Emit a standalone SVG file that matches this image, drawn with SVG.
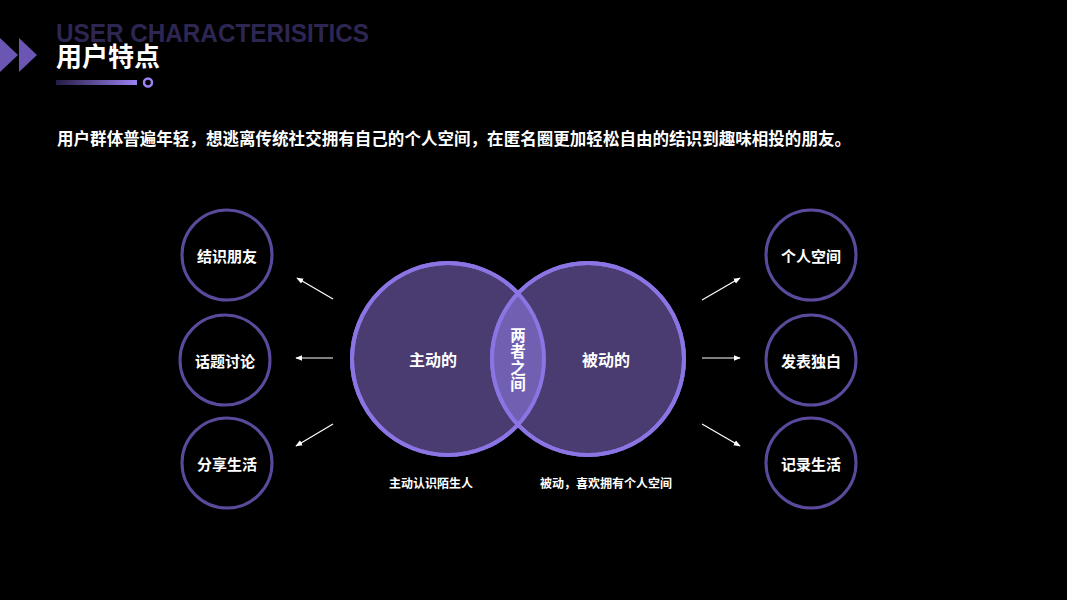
<svg xmlns="http://www.w3.org/2000/svg" width="1067" height="600" viewBox="0 0 1067 600">
<defs>
<style>
.t{font-family:"Noto Sans CJK SC","Noto Sans",sans-serif;font-weight:bold;fill:#ffffff;text-anchor:middle;dominant-baseline:central}
.sm{fill:#000000;stroke:#5b4a9c;stroke-width:3}
.big{fill:#4a3b70;stroke:#8b74e3;stroke-width:4}
.arr{stroke:#ffffff;stroke-width:1.2;fill:none;marker-end:url(#ah)}
</style>
<marker id="ah" viewBox="0 0 10 10" refX="9" refY="5" markerWidth="7" markerHeight="7" orient="auto" markerUnits="userSpaceOnUse">
<path d="M0,1 L10,5 L0,9 Z" fill="#ffffff"/>
</marker>
<linearGradient id="bar" x1="0" x2="1" y1="0" y2="0">
<stop offset="0" stop-color="#241c44"/>
<stop offset="1" stop-color="#9c82f2"/>
</linearGradient>
<clipPath id="lc"><circle cx="448" cy="359" r="96"/></clipPath>
</defs>
<rect width="1067" height="600" fill="#000000"/>
<g id="header">
<polygon points="0,38 18,55 0,72" fill="#6b57b3"/>
<polygon points="19,38 37,55 19,72" fill="#6b57b3"/>
<text x="56" y="42" font-family="Liberation Sans,Arial,sans-serif" font-weight="bold" font-size="25" fill="#2e2652" textLength="313" lengthAdjust="spacingAndGlyphs">USER CHARACTERISITICS</text>
<text x="56" y="66" font-family="Noto Sans CJK SC,sans-serif" font-weight="bold" font-size="26" fill="#ffffff">用户特点</text>
<rect x="56" y="80" width="81" height="5" fill="url(#bar)"/>
<circle cx="148" cy="82.5" r="4" fill="none" stroke="#9c82f2" stroke-width="2.5"/>
<text x="57" y="145" font-family="Noto Sans CJK SC,sans-serif" font-weight="bold" font-size="16.5" fill="#ffffff" textLength="794" lengthAdjust="spacing">用户群体普遍年轻，想逃离传统社交拥有自己的个人空间，在匿名圈更加轻松自由的结识到趣味相投的朋友。</text>
</g>
<g id="venn">
<circle class="big" cx="448" cy="359" r="96"/>
<circle class="big" cx="588" cy="359" r="96"/>
<circle cx="588" cy="359" r="96" fill="#7160b2" clip-path="url(#lc)"/>
<circle cx="448" cy="359" r="96" fill="none" stroke="#8b74e3" stroke-width="4"/>
<circle cx="588" cy="359" r="96" fill="none" stroke="#8b74e3" stroke-width="4"/>
<text class="t" x="433" y="359" font-size="16">主动的</text>
<text class="t" x="606" y="359" font-size="16">被动的</text>
<text class="t" x="518" y="360" font-size="15.5" writing-mode="vertical-rl" letter-spacing="1">两者之间</text>
<text class="t" x="431" y="482" font-size="12">主动认识陌生人</text>
<text class="t" x="606" y="482" font-size="12">被动，喜欢拥有个人空间</text>
</g>
<g id="n1"><circle class="sm" cx="227" cy="255" r="45"/><text class="t" x="227" y="255" font-size="15">结识朋友</text></g>
<g id="n2"><circle class="sm" cx="225" cy="360" r="45"/><text class="t" x="225" y="360" font-size="15">话题讨论</text></g>
<g id="n3"><circle class="sm" cx="227" cy="463" r="45"/><text class="t" x="227" y="463" font-size="15">分享生活</text></g>
<g id="n4"><circle class="sm" cx="811" cy="255" r="45"/><text class="t" x="811" y="255" font-size="15">个人空间</text></g>
<g id="n5"><circle class="sm" cx="811" cy="360" r="45"/><text class="t" x="811" y="360" font-size="15">发表独白</text></g>
<g id="n6"><circle class="sm" cx="811" cy="463" r="45"/><text class="t" x="811" y="463" font-size="15">记录生活</text></g>
<g id="connectors">
<line class="arr" x1="333" y1="299" x2="297" y2="278"/>
<line class="arr" x1="333" y1="358" x2="296" y2="358"/>
<line class="arr" x1="333" y1="424" x2="296" y2="446"/>
<line class="arr" x1="702" y1="300" x2="740" y2="278"/>
<line class="arr" x1="702" y1="358" x2="740" y2="358"/>
<line class="arr" x1="702" y1="424" x2="740" y2="446"/>
</g>
</svg>
